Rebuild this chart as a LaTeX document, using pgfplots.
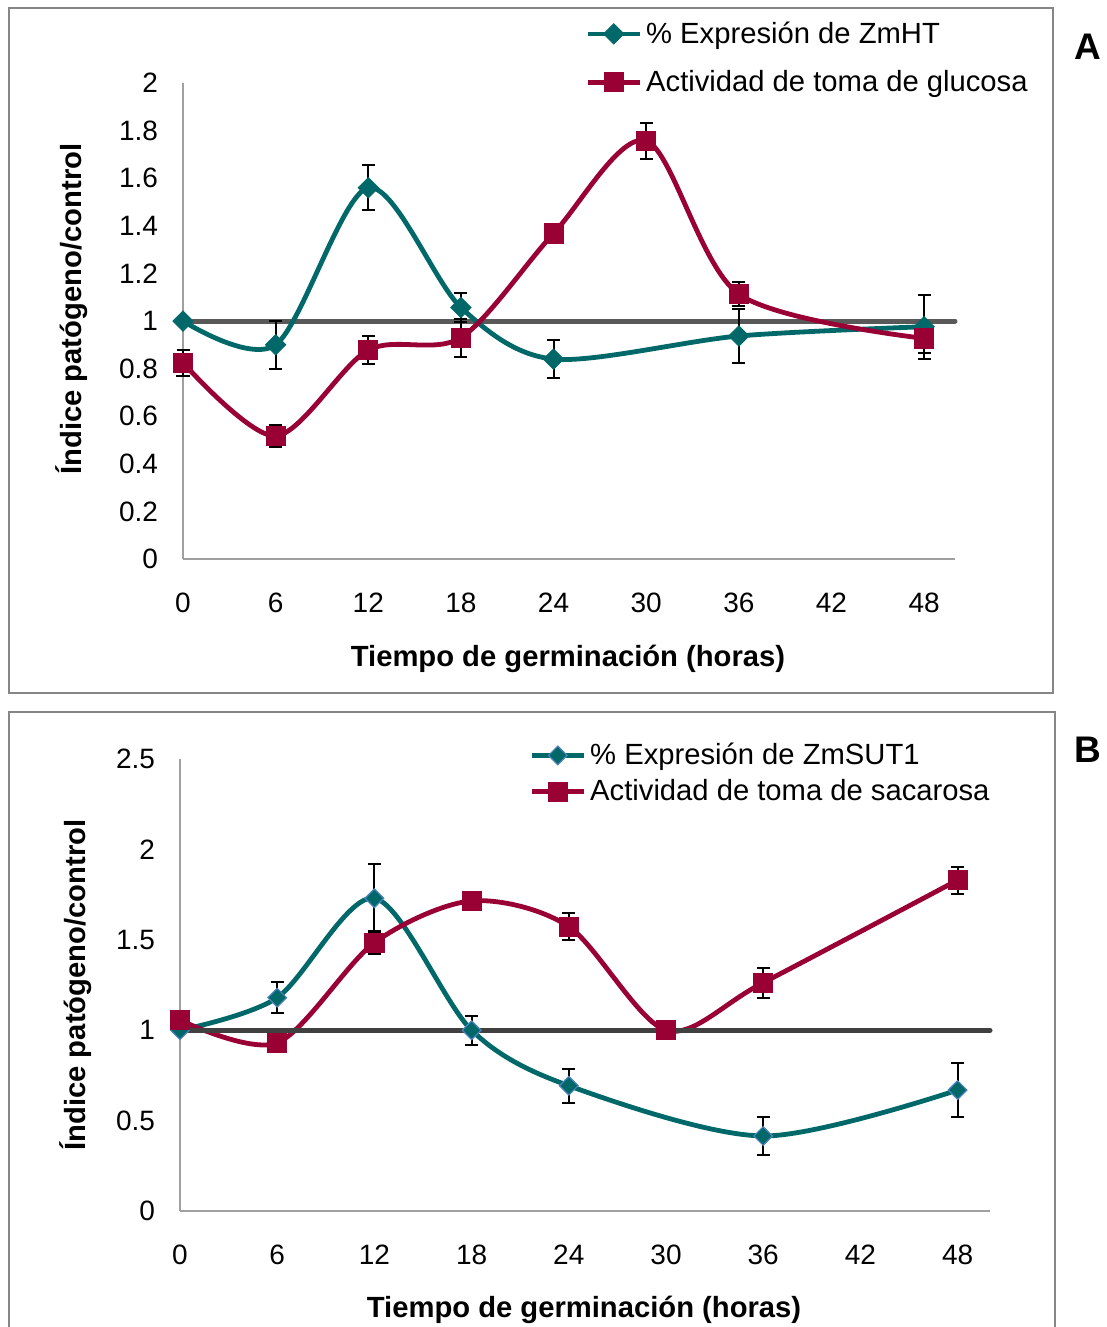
\documentclass[border=0pt]{standalone}
\usepackage{pgfplots}
\pgfplotsset{compat=1.18}
\usepackage{fontspec}
\setmainfont{Liberation Sans}
\definecolor{zteal}{RGB}{0,104,104}
\definecolor{zred}{RGB}{153,0,51}
\definecolor{zblue}{RGB}{79,129,189}
\definecolor{refA}{RGB}{89,89,89}
\definecolor{refB}{RGB}{64,64,64}
\definecolor{axgray}{RGB}{160,160,160}
\definecolor{boxgray}{RGB}{134,134,134}

\pgfplotstableread{
x y e
0 1.000 0
6 0.900 0.10
12 1.560 0.095
18 1.057 0.06
24 0.840 0.08
36 0.937 0.115
48 0.976 0.135
}\tealA
\pgfplotstableread{
x y e
0 0.825 0.055
6 0.517 0.045
12 0.878 0.06
18 0.930 0.08
24 1.368 0
30 1.757 0.075
36 1.113 0.05
48 0.927 0.06
}\redA
\pgfplotstableread{
x y e
0 1.000 0
6 1.180 0.085
12 1.730 0.19
18 1.000 0.08
24 0.693 0.095
36 0.415 0.105
48 0.669 0.15
}\tealB
\pgfplotstableread{
x y e
0 1.056 0
6 0.930 0
12 1.484 0.062
18 1.715 0.03
24 1.573 0.075
30 1.000 0.02
36 1.263 0.083
48 1.830 0.075
}\redB

\pgfplotsset{
  common/.style={
    scale only axis,
    axis lines=left,
    axis line style={axgray, line width=1pt, -},
    major tick length=0pt,
    xmin=0, xmax=50,
    xtick={0,6,12,18,24,30,36,42,48},
    tick label style={font=\fontsize{14}{16}\selectfont},
    /pgf/number format/assume math mode=true,
    xticklabel style={yshift=-13.5pt},
    yticklabel style={xshift=-9pt},
    legend cell align=left,
    legend image code/.code={\draw[##1, mark repeat=2, mark phase=2] plot coordinates {(0pt,0pt) (13pt,0pt) (26pt,0pt)};},
    clip=false,
  },
  errs/.style={forget plot, draw=none, mark=none,
    error bars/.cd, y dir=both, y explicit,
    error mark=|, error mark options={draw=black, line width=1pt, mark size=3.25pt},
    error bar style={draw=black, line width=1pt}},
}

\begin{document}
\begin{tikzpicture}
\path[use as bounding box] (0pt,0pt) rectangle (553.5pt,-663.5pt);
\clip (0pt,0pt) rectangle (553.5pt,-663.5pt);
\draw[boxgray, line width=1pt] (4.5pt,-4pt) rectangle (526.5pt,-346.5pt);
\draw[boxgray, line width=1pt] (4.5pt,-356pt) rectangle (527.5pt,-680pt);
\node[font=\bfseries\fontsize{18.5}{20}\selectfont] at (544pt,-23.5pt) {A};
\node[font=\bfseries\fontsize{18.5}{20}\selectfont] at (544pt,-375pt) {B};

% ---------------- Panel A
\begin{axis}[common,
  at={(91.5pt,-279.5pt)}, anchor=south west,
  width=386pt, height=238pt,
  ymin=0, ymax=2,
  ytick={0,0.2,0.4,0.6,0.8,1,1.2,1.4,1.6,1.8,2},
  every axis x label/.style={at={(axis description cs:0.4987,-0.2101)}, anchor=center, font=\bfseries\fontsize{14.6}{17}\selectfont},
  every axis y label/.style={at={(axis description cs:-0.1438,0.525)}, rotate=90, anchor=center, font=\bfseries\fontsize{14.6}{17}\selectfont},
  xlabel={Tiempo de germinación (horas)},
  ylabel={Índice patógeno/control},
  legend style={draw=none, fill=none, inner sep=0pt, row sep=8pt,
    font=\fontsize{14.6}{17}\selectfont,
    at={(axis description cs:0.5207,1.0525)}, anchor=west},
]
\addplot[forget plot, refA, line width=2.5pt, line cap=round] coordinates {(0,1) (50,1)};
\addplot[errs] table[x=x, y=y, y error=e] {\tealA};
\addplot[errs] table[x=x, y=y, y error=e] {\redA};
\addplot[zteal, line width=2.4pt, smooth, mark=square*,
  mark options={solid, rotate=45, mark size=3.6pt, line width=0.4pt, fill=zteal, draw=zteal}]
  table[x=x, y=y] {\tealA};
\addplot[zred, line width=2.4pt, smooth, mark=square*,
  mark options={solid, mark size=4.8pt, line width=0.4pt, fill=zred, draw=zred}]
  table[x=x, y=y] {\redA};
\legend{\% Expresión de ZmHT, Actividad de toma de glucosa}
\end{axis}

% ---------------- Panel B
\begin{axis}[common,
  at={(90pt,-605.5pt)}, anchor=south west,
  width=405pt, height=226pt,
  ymin=0, ymax=2.5,
  ytick={0,0.5,1,1.5,2,2.5},
  every axis x label/.style={at={(axis description cs:0.4988,-0.2190)}, anchor=center, font=\bfseries\fontsize{14.6}{17}\selectfont},
  every axis y label/.style={at={(axis description cs:-0.1284,0.5)}, rotate=90, anchor=center, font=\bfseries\fontsize{14.6}{17}\selectfont},
  xlabel={Tiempo de germinación (horas)},
  ylabel={Índice patógeno/control},
  legend style={draw=none, fill=none, inner sep=0pt, row sep=2pt,
    font=\fontsize{14.6}{17}\selectfont,
    at={(axis description cs:0.4309,0.968)}, anchor=west},
]
\addplot[errs] table[x=x, y=y, y error=e] {\tealB};
\addplot[errs] table[x=x, y=y, y error=e] {\redB};
\addplot[zteal, line width=2.4pt, smooth, mark=square*,
  mark options={solid, rotate=45, mark size=3.3pt, line width=0.6pt, fill=zteal, draw=zblue}]
  table[x=x, y=y] {\tealB};
\addplot[zred, line width=2.4pt, smooth, mark=square*,
  mark options={solid, mark size=4.8pt, line width=0.4pt, fill=zred, draw=zred}]
  table[x=x, y=y] {\redB};
\addplot[forget plot, refB, line width=2.5pt, line cap=round] coordinates {(0,1) (50,1)};
\legend{\% Expresión de ZmSUT1, Actividad de toma de sacarosa}
\end{axis}
\end{tikzpicture}
\end{document}
